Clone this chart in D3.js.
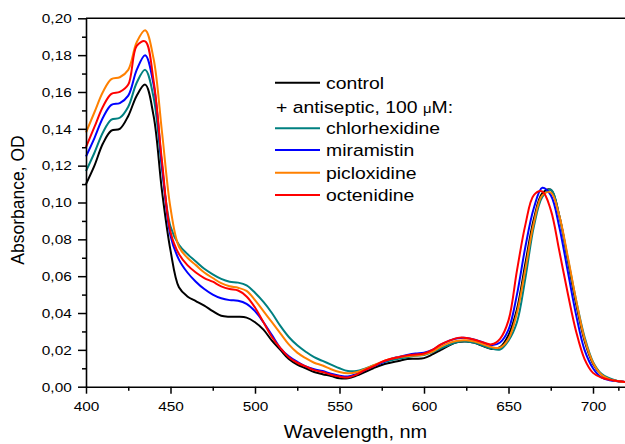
<!DOCTYPE html>
<html>
<head>
<meta charset="utf-8">
<script src="https://cdn.jsdelivr.net/npm/d3@7"></script>
<style>
  html, body { margin: 0; padding: 0; background: #fff; }
  svg { display: block; }
  text { font-family: "Liberation Sans", Arial, sans-serif; fill: #000; }
</style>
</head>
<body>
<svg id="chart" width="625" height="444"></svg>
<script>
const wavelength = [400,405,410,415,420,425,430,435,440,445,450,455,460,465,470,475,480,485,490,495,500,505,510,515,520,525,530,535,540,545,550,555,560,565,570,575,580,585,590,595,600,605,610,615,620,625,630,635,640,645,650,655,660,665,670,675,680,685,690,695,700,705,710,715,720];

const control = [0.110,0.120,0.132,0.139,0.140,0.147,0.158,0.164,0.147,0.106,0.074,0.054,0.049,0.0465,0.044,0.041,0.0385,0.038,0.038,0.0375,0.035,0.031,0.025,0.020,0.015,0.012,0.010,0.008,0.0068,0.0058,0.0046,0.0046,0.006,0.008,0.010,0.0118,0.013,0.014,0.015,0.0152,0.0155,0.0175,0.020,0.0225,0.0242,0.0245,0.0238,0.022,0.0205,0.0215,0.028,0.042,0.067,0.091,0.105,0.107,0.093,0.069,0.045,0.025,0.0125,0.0065,0.004,0.003,0.0025];

const chlorhexidine = [0.117,0.127,0.138,0.145,0.146,0.152,0.165,0.172,0.157,0.118,0.087,0.077,0.072,0.068,0.064,0.061,0.0585,0.057,0.0565,0.055,0.051,0.046,0.040,0.033,0.027,0.0225,0.019,0.016,0.014,0.012,0.010,0.0085,0.0085,0.0098,0.0115,0.013,0.0142,0.0152,0.016,0.0168,0.0172,0.0188,0.0208,0.0228,0.0243,0.0246,0.0238,0.0222,0.0207,0.0202,0.025,0.035,0.059,0.087,0.103,0.107,0.093,0.070,0.047,0.027,0.0135,0.007,0.0045,0.003,0.0025];

const miramistin = [0.125,0.135,0.146,0.153,0.154,0.158,0.172,0.180,0.164,0.120,0.082,0.069,0.062,0.057,0.053,0.050,0.048,0.047,0.0467,0.045,0.041,0.035,0.028,0.021,0.0165,0.0135,0.011,0.0095,0.0085,0.007,0.006,0.0055,0.0068,0.009,0.011,0.013,0.015,0.0162,0.0172,0.018,0.0185,0.020,0.0228,0.025,0.0263,0.0265,0.0255,0.024,0.0225,0.024,0.031,0.050,0.076,0.097,0.108,0.104,0.087,0.063,0.039,0.020,0.010,0.005,0.0035,0.003,0.0025];

const picloxidine = [0.138,0.149,0.160,0.167,0.168,0.172,0.187,0.1935,0.178,0.138,0.097,0.076,0.070,0.066,0.062,0.059,0.0562,0.0545,0.0537,0.052,0.047,0.041,0.035,0.029,0.023,0.0185,0.0155,0.013,0.0115,0.0095,0.008,0.0073,0.0078,0.0095,0.0115,0.0135,0.015,0.016,0.0165,0.017,0.0175,0.019,0.0218,0.0238,0.025,0.0252,0.0245,0.023,0.0215,0.0212,0.026,0.040,0.064,0.089,0.104,0.1055,0.093,0.071,0.047,0.026,0.013,0.0065,0.004,0.003,0.0025];

const octenidine = [0.130,0.141,0.152,0.159,0.160,0.164,0.185,0.1875,0.166,0.122,0.084,0.072,0.066,0.062,0.059,0.057,0.0545,0.053,0.0522,0.049,0.043,0.035,0.027,0.021,0.016,0.013,0.011,0.009,0.008,0.0065,0.0055,0.005,0.0065,0.009,0.011,0.0135,0.015,0.016,0.017,0.0175,0.018,0.020,0.023,0.025,0.0265,0.0265,0.0255,0.024,0.023,0.026,0.036,0.063,0.088,0.104,0.106,0.096,0.074,0.051,0.030,0.015,0.0075,0.005,0.0037,0.003,0.0025];

const seriesNames = ["control","chlorhexidine","miramistin","picloxidine","octenidine"];
const seriesValues = [control, chlorhexidine, miramistin, picloxidine, octenidine];
const seriesColors = ["#000000","#008080","#0000ff","#ff8000","#ff0000"];

const xMajorTicks = [400,450,500,550,600,650,700];
const xMinorTicks = [425,475,525,575,625,675,715];
const yMajorTicks = [0,0.02,0.04,0.06,0.08,0.10,0.12,0.14,0.16,0.18,0.20];
const yMinorTicks = [0.01,0.03,0.05,0.07,0.09,0.11,0.13,0.15,0.17,0.19];

const xLabel = "Wavelength, nm";
const yLabel = "Absorbance, OD";

const svg = d3.select("#chart");
const W = 625, H = 444;
const mLeft = 86, mRight = 626.8, mTop = 18.3, mBottom = 386.7;
const stretch = 1.14;

const x = d3.scaleLinear().domain([400, 720]).range([mLeft, mRight]);
const y = d3.scaleLinear().domain([0, 0.20]).range([mBottom, mTop]);

const fmt = v => d3.format(".2f")(v).replace(".", ",");

// curves
const line = d3.line()
  .x((d, i) => x(wavelength[i]))
  .y(d => y(d))
  .curve(d3.curveCatmullRom.alpha(0.5));

const gLines = svg.append("g");
seriesValues.forEach((vals, k) => {
  gLines.append("path")
    .attr("d", line(vals))
    .attr("fill", "none")
    .attr("stroke", seriesColors[k])
    .attr("stroke-width", 2)
    .attr("stroke-linejoin", "round");
});

// axes
const xAxis = svg.append("g").attr("transform", `translate(0,${mBottom})`)
  .call(d3.axisBottom(x).tickValues(xMajorTicks).tickSize(7).tickPadding(7.4).tickSizeOuter(0).tickFormat(d => d));
svg.append("g").attr("transform", `translate(0,${mBottom})`)
  .call(d3.axisBottom(x).tickValues(xMinorTicks).tickSize(4).tickSizeOuter(0).tickFormat(""))
  .call(g => g.select(".domain").remove());

const yAxis = svg.append("g").attr("transform", `translate(${mLeft},0)`)
  .call(d3.axisLeft(y).tickValues(yMajorTicks).tickSize(8).tickPadding(4.5).tickSizeOuter(0).tickFormat(fmt));
svg.append("g").attr("transform", `translate(${mLeft},0)`)
  .call(d3.axisLeft(y).tickValues(yMinorTicks).tickSize(4).tickSizeOuter(0).tickFormat(""))
  .call(g => g.select(".domain").remove());

svg.selectAll(".tick line").attr("stroke", "#000").attr("stroke-width", 1.5);
svg.selectAll(".domain").attr("stroke", "#000").attr("stroke-width", 1.6);

xAxis.selectAll("text")
  .attr("font-size", 13.5)
  .attr("font-family", '"Liberation Sans", Arial, sans-serif')
  .attr("fill", "#000")
  .attr("transform", `scale(${stretch},1)`);
yAxis.selectAll("text")
  .attr("font-size", 13.5)
  .attr("font-family", '"Liberation Sans", Arial, sans-serif')
  .attr("fill", "#000")
  .attr("transform", `scale(${stretch},1)`);

// top frame
svg.append("line")
  .attr("x1", mLeft).attr("x2", W + 2)
  .attr("y1", y(0.20)).attr("y2", y(0.20))
  .attr("stroke", "#000").attr("stroke-width", 1.6);

// axis titles
svg.append("text")
  .attr("transform", `translate(355.5,437.5) scale(${stretch},1)`)
  .attr("text-anchor", "middle")
  .attr("font-size", 17.5)
  .text(xLabel);

svg.append("text")
  .attr("transform", `translate(23.5,200) rotate(-90)`)
  .attr("text-anchor", "middle")
  .attr("font-size", 17.5)
  .text(yLabel);

// legend
const legend = svg.append("g");
const lx1 = 275, lx2 = 320, tx = 326;
const rows = [
  {type: "line", name: seriesNames[0], color: seriesColors[0], y: 82.7},
  {type: "text", y: 106.7},
  {type: "line", name: seriesNames[1], color: seriesColors[1], y: 128.3},
  {type: "line", name: seriesNames[2], color: seriesColors[2], y: 150},
  {type: "line", name: seriesNames[3], color: seriesColors[3], y: 172.7},
  {type: "line", name: seriesNames[4], color: seriesColors[4], y: 195}
];
rows.forEach(r => {
  if (r.type === "line") {
    legend.append("line")
      .attr("x1", lx1).attr("x2", lx2)
      .attr("y1", r.y).attr("y2", r.y)
      .attr("stroke", r.color).attr("stroke-width", 2);
    legend.append("text")
      .attr("transform", `translate(${tx},${r.y + 6}) scale(${stretch},1)`)
      .attr("font-size", 17)
      .text(r.name);
  } else {
    const t = legend.append("text")
      .attr("transform", `translate(276,${r.y + 6}) scale(${stretch},1)`)
      .attr("font-size", 17);
    t.append("tspan").text("+ antiseptic, 100 ");
    t.append("tspan").attr("font-size", 13).text("\u03bc");
    t.append("tspan").text("M:");
  }
});
</script>
</body>
</html>
